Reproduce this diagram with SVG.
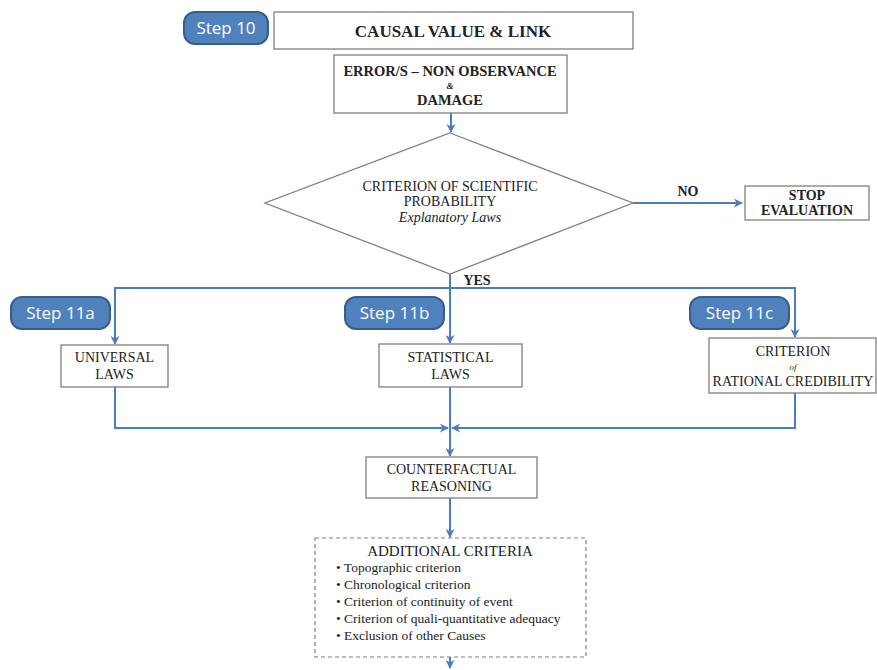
<svg xmlns="http://www.w3.org/2000/svg" width="877" height="670" viewBox="0 0 877 670">
  <defs>
    <marker id="arrow" viewBox="0 0 10 10" refX="9" refY="5" markerWidth="9" markerHeight="9" markerUnits="userSpaceOnUse" orient="auto">
      <path d="M0,0 L10,5 L0,10 L3,5 Z" fill="#4a7ebb"/>
    </marker>
    <style>
      .box { fill: #ffffff; stroke: #7f7f7f; stroke-width: 1.3; }
      .dash { fill: #ffffff; stroke: #7f7f7f; stroke-width: 1.2; stroke-dasharray: 4 3; }
      .pill { fill: #4f81bd; stroke: #385d8a; stroke-width: 2; }
      .pilltxt { font-family: "Open Sans", "Liberation Sans", sans-serif; font-size: 17px; fill: #ffffff; text-anchor: middle; }
      .t { font-family: "Liberation Serif", serif; font-size: 14px; fill: #222222; text-anchor: middle; }
      .b { font-weight: bold; }
      .i { font-style: italic; }
      .small { font-size: 9px; }
      .li { font-family: "Liberation Serif", serif; font-size: 13.5px; fill: #222222; }
      .conn { fill: none; stroke: #4a7ebb; stroke-width: 2; }
    </style>
  </defs>

  <rect width="877" height="670" fill="#ffffff"/>

  <!-- connectors -->
  <g id="connectors">
    <path class="conn" d="M451,113 V132" marker-end="url(#arrow)"/>
    <path class="conn" d="M633,203 H742" marker-end="url(#arrow)"/>
    <path class="conn" d="M450,274 V343" marker-end="url(#arrow)"/>
    <path class="conn" d="M450,288 H115 V344" marker-end="url(#arrow)"/>
    <path class="conn" d="M450,288 H795 V337" marker-end="url(#arrow)"/>
    <path class="conn" d="M115,387 V428 H448" marker-end="url(#arrow)"/>
    <path class="conn" d="M795,393 V428 H452" marker-end="url(#arrow)"/>
    <path class="conn" d="M450,387 V456" marker-end="url(#arrow)"/>
    <path class="conn" d="M450,498 V537" marker-end="url(#arrow)"/>
    <path class="conn" d="M450,657 V668" marker-end="url(#arrow)"/>
  </g>

  <!-- step labels -->
  <g id="step10">
    <rect class="pill" x="184" y="12" width="84" height="32" rx="11"/>
    <text class="pilltxt" x="226" y="34">Step 10</text>
  </g>
  <g id="step11a">
    <rect class="pill" x="11" y="297" width="99" height="32" rx="11"/>
    <text class="pilltxt" x="60.5" y="319">Step 11a</text>
  </g>
  <g id="step11b">
    <rect class="pill" x="345" y="297" width="99" height="32" rx="11"/>
    <text class="pilltxt" x="394.5" y="319">Step 11b</text>
  </g>
  <g id="step11c">
    <rect class="pill" x="690" y="297" width="99" height="32" rx="11"/>
    <text class="pilltxt" x="739.5" y="319">Step 11c</text>
  </g>

  <!-- nodes -->
  <g id="causal">
    <rect class="box" x="274" y="12" width="359" height="37"/>
    <text class="t b" x="453" y="37" style="font-size:17px">CAUSAL VALUE &amp; LINK</text>
  </g>

  <g id="error">
    <rect class="box" x="334" y="55" width="233" height="58"/>
    <text class="t b" x="450" y="76" style="font-size:14.5px">ERROR/S – NON OBSERVANCE</text>
    <text class="t b i small" x="450" y="89">&amp;</text>
    <text class="t b" x="450" y="105" style="font-size:14.5px">DAMAGE</text>
  </g>

  <g id="scientific">
    <polygon class="box" points="450,133 633,203 450,274 265,203"/>
    <text class="t" x="450" y="191">CRITERION OF SCIENTIFIC</text>
    <text class="t" x="450" y="206">PROBABILITY</text>
    <text class="t i" x="450" y="222">Explanatory Laws</text>
  </g>

  <text class="t b" x="688" y="196" style="font-size:14px">NO</text>
  <text class="t b" x="477" y="285" style="font-size:14px">YES</text>

  <g id="stop">
    <rect class="box" x="745" y="186" width="124" height="34"/>
    <text class="t b" x="807" y="200" style="font-size:14px">STOP</text>
    <text class="t b" x="807" y="215" style="font-size:14px">EVALUATION</text>
  </g>

  <g id="universal">
    <rect class="box" x="61" y="345" width="107" height="42"/>
    <text class="t" x="114.5" y="362">UNIVERSAL</text>
    <text class="t" x="114.5" y="379">LAWS</text>
  </g>

  <g id="statistical">
    <rect class="box" x="379" y="344" width="143" height="43"/>
    <text class="t" x="450.5" y="362">STATISTICAL</text>
    <text class="t" x="450.5" y="379">LAWS</text>
  </g>

  <g id="rational">
    <rect class="box" x="709" y="338" width="167" height="55"/>
    <text class="t" x="793" y="356">CRITERION</text>
    <text class="t i small" x="793" y="370">of</text>
    <text class="t" x="793" y="386">RATIONAL CREDIBILITY</text>
  </g>

  <g id="counterfactual">
    <rect class="box" x="366" y="457" width="171" height="41"/>
    <text class="t" x="451.5" y="474">COUNTERFACTUAL</text>
    <text class="t" x="451.5" y="491">REASONING</text>
  </g>

  <g id="additional">
    <rect class="dash" x="315" y="538" width="271" height="119"/>
    <text class="t" x="450" y="556" style="font-size:15px">ADDITIONAL CRITERIA</text>
    <text class="li" x="336" y="572">• Topographic criterion</text>
    <text class="li" x="336" y="589">• Chronological criterion</text>
    <text class="li" x="336" y="606">• Criterion of continuity of event</text>
    <text class="li" x="336" y="623">• Criterion of quali-quantitative adequacy</text>
    <text class="li" x="336" y="640">• Exclusion of other Causes</text>
  </g>
</svg>
